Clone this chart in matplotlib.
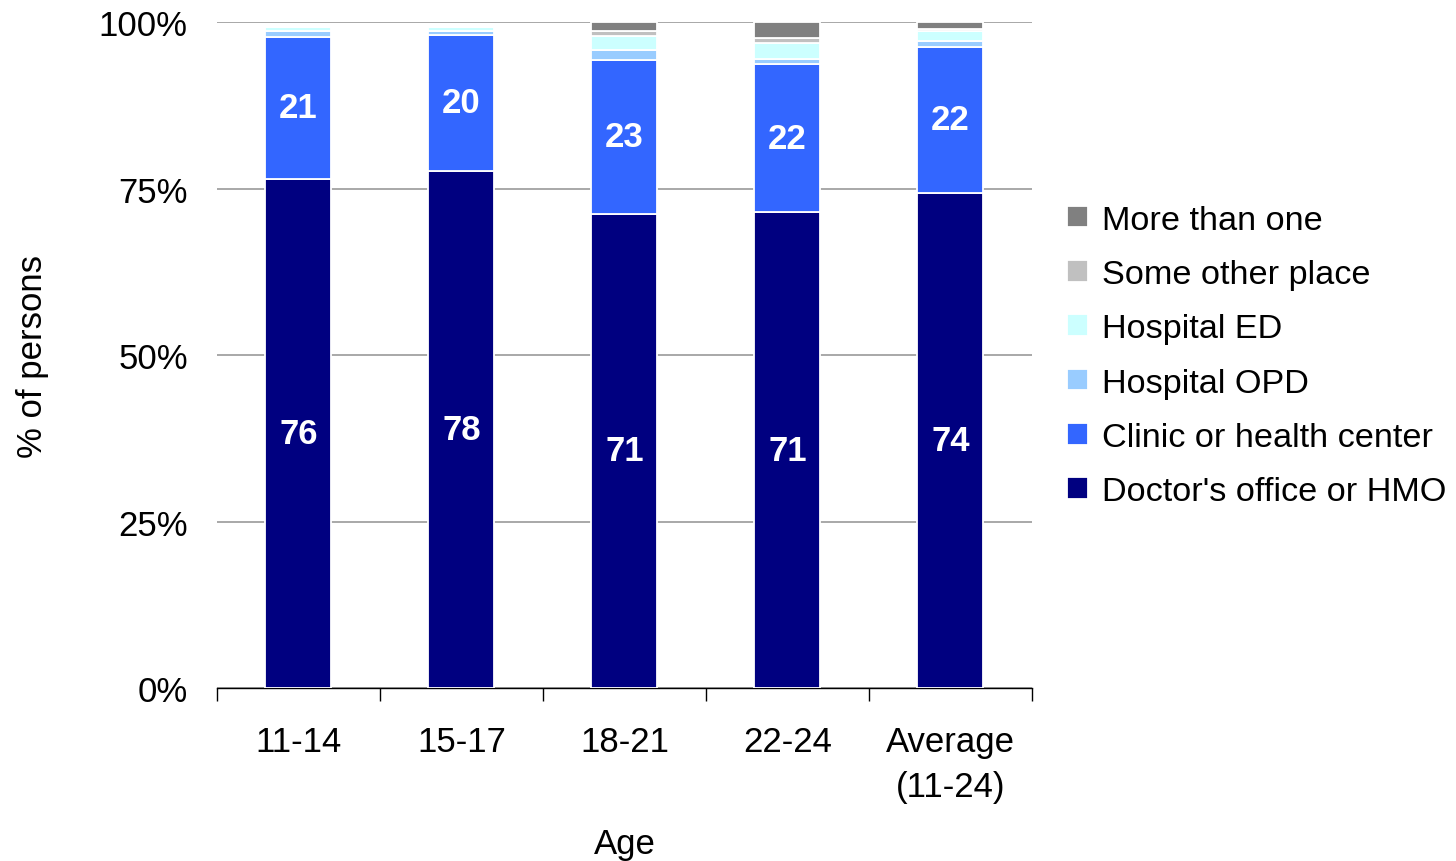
import matplotlib
matplotlib.use("Agg")
import matplotlib.pyplot as plt
import numpy as np

plt.rcParams['font.family'] = ['Liberation Sans', 'DejaVu Sans']

# data (percent of persons)
ages = ["11-14", "15-17", "18-21", "22-24", "Average\n(11-24)"]
doctor = [76.4, 77.7, 71.2, 71.4, 74.4]
clinic = [21.4, 20.3, 23.15, 22.3, 21.8]
opd    = [0.8, 0.6, 1.45, 0.7, 1.0]
ed     = [0.7, 0.7, 2.1, 2.5, 1.4]
other  = [0.05, 0.05, 0.8, 0.7, 0.4]
more   = [0.05, 0.05, 1.3, 2.4, 1.0]

series = [
    ("Doctor's office or HMO", doctor, "#000080"),
    ("Clinic or health center", clinic, "#3366FF"),
    ("Hospital OPD", opd, "#99CCFF"),
    ("Hospital ED", ed, "#CCFFFF"),
    ("Some other place", other, "#C0C0C0"),
    ("More than one", more, "#808080"),
]

fig = plt.figure(figsize=(14.56, 8.62), dpi=100)
ax = fig.add_axes([0.149, 0.2007, 0.5597, 0.7726])

x = np.arange(len(ages))
bottom = np.zeros(len(ages))
handles = []
for name, vals, col in series:
    b = ax.bar(x, vals, width=0.405, bottom=bottom, color=col,
               edgecolor="white", linewidth=1.3, label=name, zorder=3)
    handles.append(b)
    if name in ("Doctor's office or HMO", "Clinic or health center"):
        for xi, v, b0 in zip(x, vals, bottom):
            ax.text(xi, b0 + v / 2, f"{v:.0f}", ha="center", va="center",
                    color="white", fontsize=25, fontweight="bold", zorder=4)
    bottom += np.array(vals)

ax.set_xlim(-0.5, len(ages) - 0.5)
ax.set_ylim(0, 100)
ax.set_yticks([0, 25, 50, 75, 100])
ax.set_yticklabels(["0%", "25%", "50%", "75%", "100%"])
ax.yaxis.grid(True, color="#999999", linewidth=1.2, zorder=0)
ax.set_axisbelow(True)

ax.set_xticks(x)
ax.set_xticklabels(ages, linespacing=1.45)
ax.set_xticks(np.arange(-0.5, len(ages)), minor=True)
ax.tick_params(axis="x", which="major", length=0, pad=27, labelsize=25)
ax.tick_params(axis="x", which="minor", length=9, width=1, color="black")
ax.tick_params(axis="y", length=0, pad=21, labelsize=25)

for s in ("top", "right", "left"):
    ax.spines[s].set_visible(False)
ax.spines["bottom"].set_linewidth(1)

ax.set_xlabel("Age", fontsize=25)
ax.xaxis.set_label_coords(0.5, -0.209)
ax.xaxis.label.set_va("top")
ax.set_ylabel("% of persons", fontsize=25)
ax.yaxis.set_label_coords(-0.206, 0.5)

fig.legend(handles[::-1], [s[0] for s in series][::-1],
           loc="center left", bbox_to_anchor=(0.733, 0.586),
           frameon=False, fontsize=24.7, handlelength=0.6, handleheight=0.6,
           handletextpad=0.42, labelspacing=0.68, borderpad=0, borderaxespad=0)

fig.savefig("out.png", dpi=100)
